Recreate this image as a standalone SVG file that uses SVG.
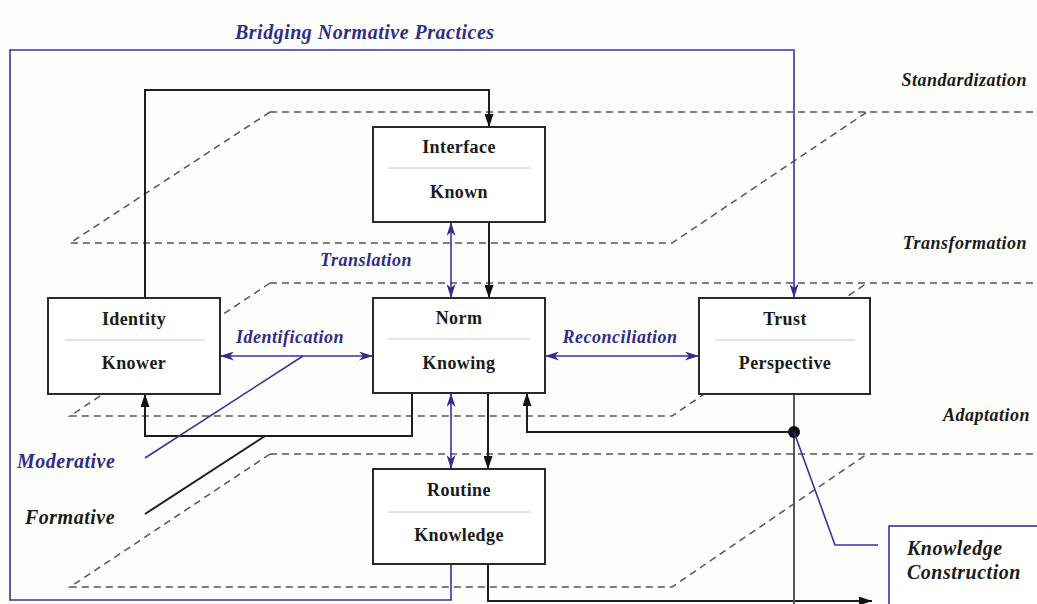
<svg xmlns="http://www.w3.org/2000/svg" width="1037" height="604" viewBox="0 0 1037 604">
<style>
.bg{fill:#fdfdfb}
.box{fill:#fff;stroke:#2a2a2a;stroke-width:2}
.div{stroke:#c8c8c8;stroke-width:1}
.nt{font-family:"Liberation Serif","Times New Roman",serif;font-weight:bold;font-size:18px;letter-spacing:0.4px;fill:#1a1a1a;text-anchor:middle}
.lab{font-family:"Liberation Serif","Times New Roman",serif;font-weight:bold;font-style:italic;font-size:18px;letter-spacing:0.5px}
.big{font-size:20px;letter-spacing:0.5px}
.blue{fill:#2e2e86}
.dark{fill:#1a1a1a}
.dash{fill:none;stroke:#555;stroke-width:1.5;stroke-dasharray:7 5}
.bl{fill:none;stroke:#1e1e1e;stroke-width:2}
.gr{fill:none;stroke:#555;stroke-width:2}
.bu{fill:none;stroke:#35359a;stroke-width:1.6}
</style>
<defs>
<marker id="k" markerUnits="userSpaceOnUse" markerWidth="13" markerHeight="9" viewBox="0 0 13 9" refX="13" refY="4.5" orient="auto-start-reverse">
<path d="M0,0 L13,4.5 L0,9 z" fill="#111"/>
</marker>
<marker id="b" markerUnits="userSpaceOnUse" markerWidth="14" markerHeight="9" viewBox="0 0 14 9" refX="14" refY="4.5" orient="auto-start-reverse">
<path d="M0,0 L14,4.5 L0,9 L4,4.5 z" fill="#2e2e8c"/>
</marker>
</defs>
<rect class="bg" x="0" y="0" width="1037" height="604"/>

<g id="planes">
<path class="dash" d="M270,112 H1037 M270,112 L70,243 H672 L867,112"/>
<path class="dash" d="M270,283 H1037 M270,283 L70,416 H672 L867,283"/>
<path class="dash" d="M270,454 H1037 M270,454 L70,587 H672 L867,454"/>
</g>

<g id="connectors">
<path class="bu" d="M451,564 V600 H10 V50 H794 V298" marker-end="url(#b)"/>
<path class="bl" d="M145,298 V90 H489 V127" marker-end="url(#k)"/>
<path class="bl" d="M489,222 V298" marker-end="url(#k)"/>
<path class="bl" d="M412,393 V436 H145 V394" marker-end="url(#k)"/>
<path class="bl" d="M488,393 V469" marker-end="url(#k)"/>
<path class="bl" d="M488,564 V601 H872" marker-end="url(#k)"/>
<path class="gr" d="M794,394 V604"/>
<path class="bl" d="M794,432 H527 V393" marker-end="url(#k)"/>
<circle cx="794" cy="432" r="6" fill="#111"/>
<path class="bl" d="M145,514 L265,436"/>
<path class="bu" d="M451,222 V298" marker-start="url(#b)" marker-end="url(#b)"/>
<path class="bu" d="M451,393 V469" marker-start="url(#b)" marker-end="url(#b)"/>
<path class="bu" d="M220,356 H373" marker-start="url(#b)" marker-end="url(#b)"/>
<path class="bu" d="M545,356 H699" marker-start="url(#b)" marker-end="url(#b)"/>
<path class="bu" d="M145,458 L303,356"/>
<path class="bu" d="M794,432 L835,545 H878"/>
</g>

<g id="interface">
<rect class="box" x="373" y="127" width="172" height="95"/>
<line class="div" x1="388" y1="168" x2="530" y2="168"/>
<text class="nt" x="459" y="153">Interface</text>
<text class="nt" x="459" y="198">Known</text>
</g>
<g id="norm">
<rect class="box" x="373" y="298" width="172" height="95"/>
<line class="div" x1="388" y1="339" x2="530" y2="339"/>
<text class="nt" x="459" y="324">Norm</text>
<text class="nt" x="459" y="369">Knowing</text>
</g>
<g id="identity">
<rect class="box" x="48" y="298" width="172" height="96"/>
<line class="div" x1="65" y1="340" x2="205" y2="340"/>
<text class="nt" x="134" y="325">Identity</text>
<text class="nt" x="134" y="369">Knower</text>
</g>
<g id="trust">
<rect class="box" x="699" y="298" width="171" height="96"/>
<line class="div" x1="715" y1="340" x2="855" y2="340"/>
<text class="nt" x="785" y="325">Trust</text>
<text class="nt" x="785" y="369">Perspective</text>
</g>
<g id="routine">
<rect class="box" x="373" y="469" width="172" height="95"/>
<line class="div" x1="388" y1="512" x2="530" y2="512"/>
<text class="nt" x="459" y="496">Routine</text>
<text class="nt" x="459" y="541">Knowledge</text>
</g>
<g id="knowledge-construction">
<rect x="889" y="526" width="160" height="90" fill="#fff" stroke="#35359a" stroke-width="1.6"/>
<text class="lab big dark" x="907" y="555">Knowledge</text>
<text class="lab big dark" x="907" y="579">Construction</text>
</g>

<g id="labels">
<text class="lab big blue" x="235" y="39">Bridging Normative Practices</text>
<text class="lab dark" x="1027" y="86" text-anchor="end">Standardization</text>
<text class="lab dark" x="1027" y="249" text-anchor="end">Transformation</text>
<text class="lab dark" x="1030" y="421" text-anchor="end">Adaptation</text>
<text class="lab blue" x="366" y="266" text-anchor="middle">Translation</text>
<text class="lab blue" x="290" y="343" text-anchor="middle">Identification</text>
<text class="lab blue" x="620" y="343" text-anchor="middle">Reconciliation</text>
<text class="lab big blue" x="17" y="468">Moderative</text>
<text class="lab big dark" x="25" y="524">Formative</text>
</g>
</svg>
